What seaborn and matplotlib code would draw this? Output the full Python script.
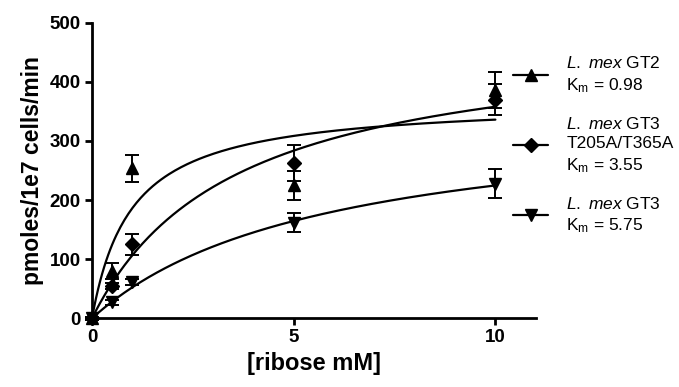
import numpy as np
import pandas as pd
import matplotlib
matplotlib.use("Agg")
import matplotlib.pyplot as plt
import seaborn as sns

# data
ribose = [0, 0.5, 1, 5, 10]
gt2 = [0, 80, 254, 225, 386]
gt2_err = [3, 13, 23, 25, 31]
gt3_mut = [0, 54, 125, 263, 370]
gt3_mut_err = [3, 5, 18, 31, 26]
gt3 = [0, 27, 61, 162, 228]
gt3_err = [3, 4, 5, 16, 25]

# Michaelis-Menten fits (Km from the labels, Vmax estimated from curves)
km = [0.98, 3.55, 5.75]
vmax = [369, 485, 354]

labels = [
    r"$\it{L.}$ $\it{mex}$ GT2" + "\n" + r"K$_\mathrm{m}$ = 0.98",
    r"$\it{L.}$ $\it{mex}$ GT3" + "\n" + "T205A/T365A" + "\n" + r"K$_\mathrm{m}$ = 3.55",
    r"$\it{L.}$ $\it{mex}$ GT3" + "\n" + r"K$_\mathrm{m}$ = 5.75",
]
markers = ["^", "D", "v"]
msizes = [8, 7, 8]

sns.set_theme(style="ticks")
plt.rcParams["font.family"] = ["Liberation Sans", "DejaVu Sans"]
plt.rcParams["mathtext.fontset"] = "custom"
plt.rcParams["mathtext.rm"] = "Liberation Sans"
plt.rcParams["mathtext.it"] = "Liberation Sans:italic"
for k in ["text.color", "axes.labelcolor", "xtick.color", "ytick.color", "axes.edgecolor"]:
    plt.rcParams[k] = "black"

fig = plt.figure(figsize=(6.79, 3.87), dpi=100)
ax = fig.add_axes([0.1355, 0.1775, 0.789 - 0.1355, 0.9413 - 0.1775])

# fitted curves
xs = np.linspace(0, 10, 200)
curves = []
for i in range(3):
    curves.append(pd.DataFrame({"x": xs, "y": vmax[i] * xs / (km[i] + xs), "fit": labels[i]}))
curves = pd.concat(curves)
sns.lineplot(data=curves, x="x", y="y", units="fit", estimator=None,
             color="black", lw=1.6, ax=ax, legend=False)

series = [(gt2, gt2_err), (gt3_mut, gt3_mut_err), (gt3, gt3_err)]
handles = []
for (vals, errs), m, ms, lab in zip(series, markers, msizes, labels):
    eb = ax.errorbar(ribose, vals, yerr=errs, fmt=m, color="black", ms=ms,
                     capsize=4.7, elinewidth=1.4, capthick=1.4, clip_on=False, zorder=5)
    for art in eb.lines[1] + eb.lines[2]:
        art.set_clip_on(False)
    h, = ax.plot([], [], color="black", lw=1.6, marker=m, ms=ms, label=lab)
    handles.append(h)

ax.set_xlim(0, 11)
ax.set_ylim(0, 500)
ax.set_xticks([0, 5, 10])
ax.set_yticks([0, 100, 200, 300, 400, 500])
sns.despine(ax=ax)
for s in ["left", "bottom"]:
    ax.spines[s].set_linewidth(2)
ax.tick_params(axis="both", direction="out", length=5, width=2,
               labelsize=13.5, pad=3)
for t in ax.get_xticklabels() + ax.get_yticklabels():
    t.set_fontweight("bold")
ax.set_xlabel("[ribose mM]", fontsize=17, fontweight="bold", labelpad=4)
ax.set_ylabel("pmoles/1e7 cells/min", fontsize=16.5, fontweight="bold", labelpad=4)

leg = fig.legend(handles=handles, labels=labels, loc="upper left",
                 bbox_to_anchor=(0.733, 0.897), frameon=False, fontsize=12.5,
                 handlelength=2.0, handletextpad=1.05, labelspacing=1.2)
for t in leg.get_texts():
    t.set_linespacing(1.35)

fig.savefig("out.png", dpi=100)
